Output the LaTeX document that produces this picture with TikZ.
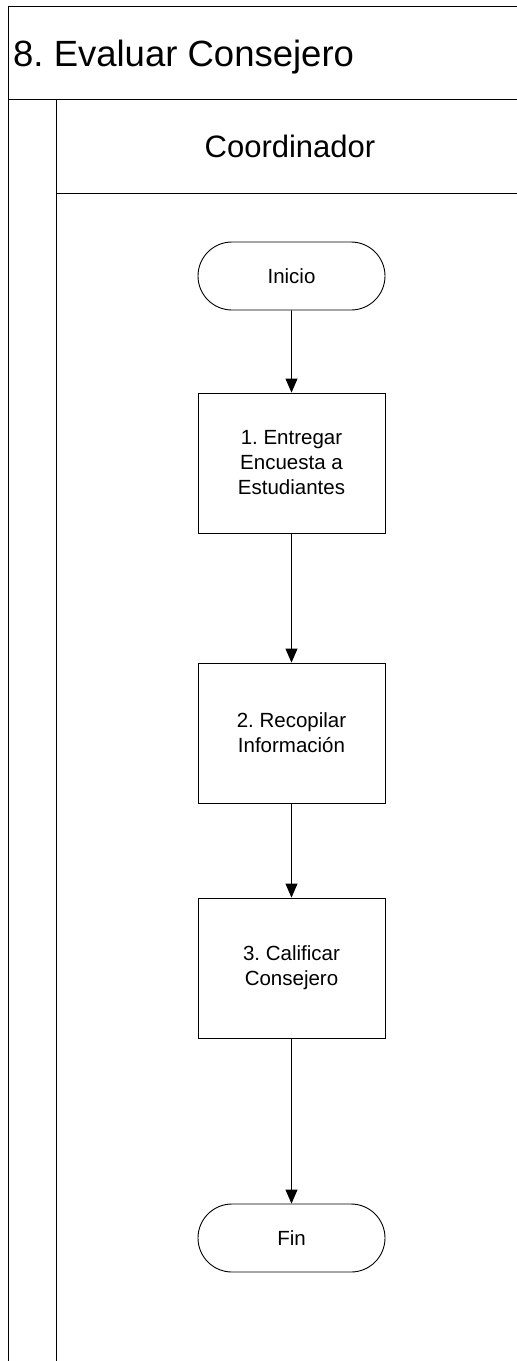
\documentclass[tikz,border=0pt]{standalone}
\usepackage{fontspec}
\setmainfont{Liberation Sans}
\frenchspacing
\usetikzlibrary{arrows.meta,shapes.misc}
\begin{document}
\begin{tikzpicture}[x=1pt,y=-1pt,
  frame/.style={line width=1pt,draw=black},
  stepbox/.style={draw,line width=0.9pt,minimum width=187pt,minimum height=140pt,align=center,font=\fontsize{20.5pt}{25pt}\selectfont\frenchspacing,inner sep=0pt},
  term/.style={draw,line width=0.9pt,rounded rectangle,minimum width=187pt,minimum height=68pt,font=\fontsize{20.5pt}{25pt}\selectfont,inner sep=0pt},
  flow/.style={line width=0.9pt,-{Triangle[length=14pt,width=12pt]}}]
\useasboundingbox (0,0) rectangle (517,1361);
% frame
\draw[frame] (8,1361) -- (8,6) -- (530,6);
\draw[frame] (8,99) -- (530,99);
\draw[frame] (56,99) -- (56,1361);
\draw[frame] (56,193) -- (530,193);
\node[anchor=base west,font=\fontsize{36.5pt}{44pt}\selectfont\frenchspacing,inner sep=0pt] (title) at (13,66) {8. Evaluar Consejero};
\node[anchor=base,font=\fontsize{31pt}{37pt}\selectfont,inner sep=0pt] (lane) at (290,157) {Coordinador};
% nodes
\node[term] (ini) at (291.5,276) {Inicio};
\node[stepbox] (s1) at (291.5,463) {1. Entregar\\Encuesta a\\Estudiantes};
\node[stepbox] (s2) at (291.5,733) {2. Recopilar\\Información};
\node[stepbox] (s3) at (291.5,968) {3. Calificar\\Consejero};
\node[term] (fin) at (291.5,1238) {Fin};
\draw[flow] (ini) -- (s1);
\draw[flow] (s1) -- (s2);
\draw[flow] (s2) -- (s3);
\draw[flow] (s3) -- (fin);
\end{tikzpicture}
\end{document}
